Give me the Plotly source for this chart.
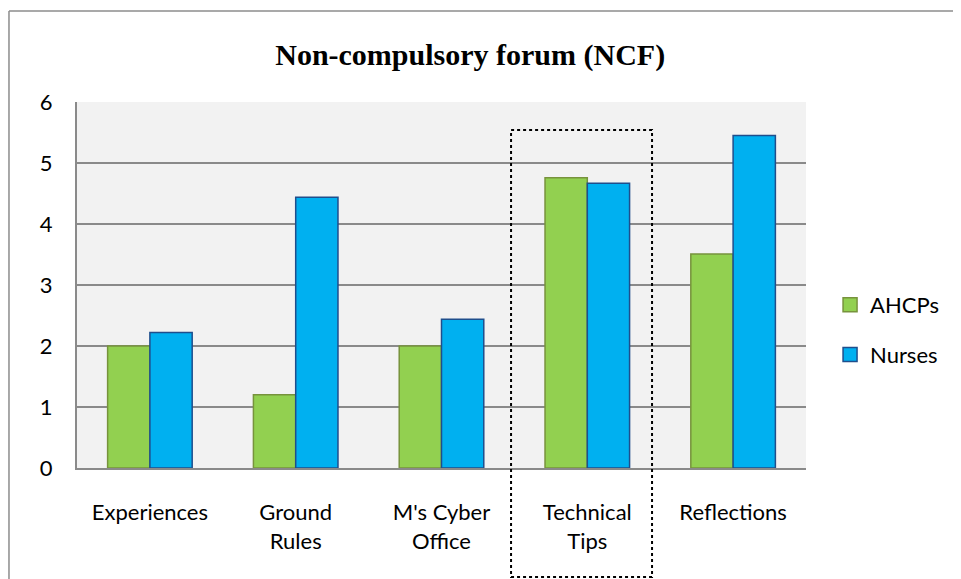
import plotly.graph_objects as go

categories = ["Experiences", "Ground<br>Rules", "M's Cyber<br>Office", "Technical<br>Tips", "Reflections"]
ahcps = [2.0, 1.2, 2.0, 4.76, 3.51]
nurses = [2.22, 4.44, 2.44, 4.67, 5.45]
y_ticks = [0, 1, 2, 3, 4, 5, 6]
series_names = ["AHCPs", "Nurses"]
fill_colors = ["#92D050", "#00B0F0"]
edge_colors = ["#77933C", "#1F4E8C"]

FONT = "Lato"
FS = 22
GRID = "#8A8A8A"
fig = go.Figure()
for name, vals, fc, ec in zip(series_names, [ahcps, nurses], fill_colors, edge_colors):
    fig.add_trace(go.Bar(x=categories, y=vals, name=name, showlegend=False,
                         marker=dict(color=fc, line=dict(color=ec, width=1.5))))
# legend entries with larger square swatches
for i, (name, fc, ec) in enumerate(zip(series_names, fill_colors, edge_colors)):
    fig.add_trace(go.Scatter(x=[None], y=[None], mode="markers", name=name,
                             legendgroup=f"g{i}", hoverinfo="skip",
                             marker=dict(symbol="square", size=14, color=fc,
                                         line=dict(color=ec, width=1.5))))

fig.update_layout(
    width=953, height=571,
    margin=dict(l=69, r=155, t=94, b=111),
    paper_bgcolor="white", plot_bgcolor="#F2F2F2",
    barmode="group", bargap=0.42, bargroupgap=0,
    title=dict(text="<b>Non-compulsory forum (NCF)</b>", x=0.485, xanchor="center",
               y=0.919, yanchor="middle",
               font=dict(family="Liberation Serif", size=30, color="black")),
    font=dict(family=FONT, size=FS, color="black"),
    showlegend=True,
    legend=dict(x=1.033, xanchor="left", y=0.377, yanchor="middle",
                tracegroupgap=18, font=dict(size=FS), bgcolor="rgba(0,0,0,0)"),
    xaxis=dict(showgrid=False, showline=True, linecolor=GRID, linewidth=2,
               ticks="outside", ticklen=24, tickcolor="rgba(0,0,0,0)",
               tickfont=dict(size=FS)),
    yaxis=dict(range=[0, 6], tickvals=y_ticks, showgrid=True, gridcolor=GRID,
               gridwidth=2, showline=True, linecolor=GRID, linewidth=2,
               zeroline=False, ticks="outside", ticklen=18, tickcolor="rgba(0,0,0,0)",
               tickfont=dict(size=FS)),
)

# outer chart frame (left and top edges)
fig.add_shape(type="line", xref="paper", yref="paper", x0=-0.0933, x1=-0.0933, y0=-0.5, y1=1.2486,
              line=dict(color="#8C8C8C", width=1.5))
fig.add_shape(type="line", xref="paper", yref="paper", x0=-0.0933, x1=1.3, y0=1.2486, y1=1.2486,
              line=dict(color="#8C8C8C", width=1.5))

# dotted highlight around Technical Tips
fig.add_shape(type="rect", xref="x", yref="paper", x0=2.477, x1=3.444, y0=-0.298, y1=0.9235,
              line=dict(color="black", width=2, dash="dot"), fillcolor="rgba(0,0,0,0)", layer="above")

fig.write_html("out.html")
